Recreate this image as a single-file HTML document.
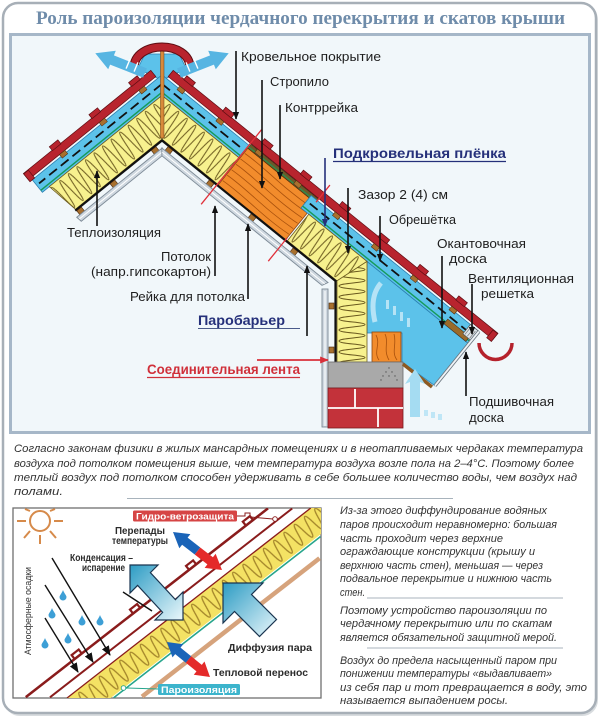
<!DOCTYPE html>
<html><head><meta charset="utf-8"><title>Роль пароизоляции</title>
<style>html,body{margin:0;padding:0;background:#fff;width:600px;height:718px;overflow:hidden}svg{display:block}</style>
</head><body>
<svg xmlns="http://www.w3.org/2000/svg" width="600" height="718" viewBox="0 0 600 718" font-family="'Liberation Sans', sans-serif">
<defs>
<pattern id="ins" patternUnits="userSpaceOnUse" x="0" y="26" width="11" height="34"><path d="M0,2 C3,2 3,32 5.5,32 C8,32 8,2 11,2" fill="none" stroke="#6b5a1e" stroke-width="1"/></pattern>
<pattern id="insv" patternUnits="userSpaceOnUse" x="337" y="0" width="30" height="11"><path d="M2,0 C2,3 28,3 28,5.5 C28,8 2,8 2,11" fill="none" stroke="#6b5a1e" stroke-width="1"/></pattern>
<pattern id="insL" patternUnits="userSpaceOnUse" x="0" y="0" width="13" height="26.8"><path d="M0,3 C3.25,3 3.25,24 6.5,24 C9.75,24 9.75,3 13,3" fill="none" stroke="#a3852a" stroke-width="1.3"/></pattern>
<linearGradient id="cg" x1="0" y1="0" x2="1" y2="1"><stop offset="0" stop-color="#2d9cc4"/><stop offset="1" stop-color="#eaf7fb"/></linearGradient>
<marker id="mk" viewBox="0 0 10 8" refX="9" refY="4" markerWidth="8" markerHeight="6.5" markerUnits="userSpaceOnUse" orient="auto"><path d="M0,0 L10,4 L0,8 Z" fill="#111"/></marker>
<marker id="mkn" viewBox="0 0 10 8" refX="9" refY="4" markerWidth="8" markerHeight="6.5" markerUnits="userSpaceOnUse" orient="auto"><path d="M0,0 L10,4 L0,8 Z" fill="#25307a"/></marker>
<marker id="mkr" viewBox="0 0 10 8" refX="9" refY="4" markerWidth="9" markerHeight="7" markerUnits="userSpaceOnUse" orient="auto"><path d="M0,0 L10,4 L0,8 Z" fill="#d8303a"/></marker>
<marker id="mkb" viewBox="0 0 10 8" refX="9" refY="4" markerWidth="10" markerHeight="8" markerUnits="userSpaceOnUse" orient="auto"><path d="M0,0 L10,4 L0,8 Z" fill="#111"/></marker>
<clipPath id="bc"><rect x="13" y="508" width="308" height="190"/></clipPath>
</defs>

<!-- outer frame -->
<rect x="5" y="5" width="592" height="710" rx="15" fill="none" stroke="#d8dcdf" stroke-width="2"/>
<rect x="3" y="3" width="593" height="710" rx="15" fill="#fff" stroke="#a7afb7" stroke-width="2.5"/>
<text x="36" y="24" font-family="'Liberation Serif',serif" font-weight="bold" font-size="19" fill="#6f8caa" textLength="529" lengthAdjust="spacingAndGlyphs">Роль пароизоляции чердачного перекрытия и скатов крыши</text>

<!-- upper panel -->
<rect x="10.5" y="34.5" width="579" height="398" fill="#f1f7fa" stroke="#a6b7c8" stroke-width="3"/>

<!-- ridge vent blue -->
<polygon points="138,68 145,54 179,54 186,68 174,75 162,80 150,75" fill="#5cc2ea" stroke="#2a7fb0" stroke-width="0.8"/>

<!-- LEFT SLOPE -->
<g transform="matrix(-0.777,0.629,0.629,0.777,162,62)">
<polygon points="8,10 175,10 175,26 21,26" fill="#5cc2ea" stroke="#2a7fb0" stroke-width="0.8"/>
<line x1="14" y1="17" x2="172" y2="17" stroke="#111" stroke-width="1.8" stroke-dasharray="10 5"/>
<line x1="19" y1="23.5" x2="175" y2="23.5" stroke="#159a5a" stroke-width="1.4"/>
<polygon points="21,26 166,26 160,60 49,60" fill="#f7f18e"/>
<polygon points="21,26 166,26 160,60 49,60" fill="url(#ins)" stroke="#6b5a1e" stroke-width="0.8"/>
<line x1="49" y1="61" x2="161" y2="61" stroke="#111" stroke-width="2.2"/>
<g fill="#a8702e" stroke="#4a2a10" stroke-width="0.6"><rect x="58" y="62" width="6" height="5"/><rect x="111" y="62" width="6" height="5"/><rect x="154" y="62" width="6" height="5"/></g>
<polygon points="54,67 164,67 163,73 59,73" fill="#cfd8e0" stroke="#7d8a96" stroke-width="0.9"/>
<line x1="57" y1="70" x2="163" y2="70" stroke="#fff" stroke-width="1"/>
<g fill="#b8242e" stroke="#5e0d12" stroke-width="0.7">
<rect x="14" y="-0.5" width="164" height="8"/>
<rect x="28" y="-5" width="11" height="5"/><rect x="79" y="-5" width="11" height="5"/><rect x="130" y="-5" width="11" height="5"/>
<rect x="172" y="0" width="6" height="10"/>
</g>
<g fill="#a8702e" stroke="#4a2a10" stroke-width="0.5"><rect x="29" y="7.5" width="7" height="4.5"/><rect x="80" y="7.5" width="7" height="4.5"/><rect x="131" y="7.5" width="7" height="4.5"/></g>
</g>

<!-- eave blue region -->
<polygon points="367,261.4 468.9,343.9 434.9,385.8 402,362 402,333 367,333" fill="#5cc2ea" stroke="#2a7fb0" stroke-width="0.8"/>
<path d="M375,322 C371,305 373,292 381,283" fill="none" stroke="#fff" stroke-width="5" opacity="0.55"/>
<g fill="#fff" opacity="0.55"><rect x="386" y="300" width="3" height="9"/><rect x="393" y="306" width="3" height="9"/><rect x="400" y="312" width="3" height="9"/><rect x="407" y="318" width="3" height="9"/></g>

<!-- RIGHT SLOPE -->
<g transform="matrix(0.777,0.629,-0.629,0.777,162,62)">
<polygon points="8,10 120,10 120,26 21,26" fill="#5cc2ea" stroke="#2a7fb0" stroke-width="0.8"/>
<line x1="14" y1="17" x2="118" y2="17" stroke="#111" stroke-width="1.8" stroke-dasharray="10 5"/>
<line x1="19" y1="23.5" x2="120" y2="23.5" stroke="#159a5a" stroke-width="1.4"/>
<polygon points="21,26 120,26 120,60 49,60" fill="#f7f18e"/>
<polygon points="21,26 120,26 120,60 49,60" fill="url(#ins)" stroke="#6b5a1e" stroke-width="0.8"/>
<polygon points="121,13 208,13 208,61 121,61" fill="#f28c2c" stroke="#8a4510" stroke-width="0.8"/>
<path d="M122,19 C145,17 170,22 207,19 M122,26 C150,24 175,29 207,26 M122,33 C140,31 170,36 207,33 M122,40 C150,38 180,43 207,40 M122,47 C145,45 170,50 207,47 M122,54 C150,52 175,57 207,54" stroke="#a8500c" stroke-width="0.8" fill="none"/>
<rect x="121" y="8" width="87" height="5" fill="#6b5a2a" stroke="#3a2a10" stroke-width="0.5"/>
<line x1="121" y1="11.5" x2="208" y2="11.5" stroke="#1d9a55" stroke-width="1"/>
<polygon points="200,10 416,10 416,26 200,26" fill="#5cc2ea" stroke="#2a7fb0" stroke-width="0.8"/>
<line x1="204" y1="17" x2="410" y2="17" stroke="#111" stroke-width="1.8" stroke-dasharray="10 5"/>
<line x1="200" y1="23.5" x2="416" y2="23.5" stroke="#159a5a" stroke-width="1.4"/>
<polygon points="210,26 284.9,26 273.8,60 210,60" fill="#f7f18e"/>
<polygon points="210,26 284.9,26 273.8,60 210,60" fill="url(#ins)" stroke="#6b5a1e" stroke-width="0.8"/>
<line x1="49" y1="61" x2="274" y2="61" stroke="#111" stroke-width="2.2"/>
<g fill="#a8702e" stroke="#4a2a10" stroke-width="0.6"><rect x="58" y="62" width="6" height="5"/><rect x="111" y="62" width="6" height="5"/><rect x="165" y="62" width="6" height="5"/><rect x="219" y="62" width="6" height="5"/></g>
<polygon points="54,67 267.9,67 265,73 59,73" fill="#cfd8e0" stroke="#7d8a96" stroke-width="0.9"/>
<line x1="57" y1="70" x2="266" y2="70" stroke="#fff" stroke-width="1"/>
<rect x="384" y="20" width="28" height="6" fill="#9a6a2a" stroke="#4a2a10" stroke-width="0.5"/>
<rect x="405" y="10" width="11" height="12" fill="#dde5ea" stroke="#555" stroke-width="0.7"/>
<path d="M407,12 L407,21 M410,12 L410,21 M413,12 L413,21" stroke="#777" stroke-width="0.7"/>
<g fill="#b8242e" stroke="#5e0d12" stroke-width="0.7">
<rect x="14" y="-0.5" width="418" height="8"/>
<rect x="28" y="-5" width="11" height="5"/><rect x="78" y="-5" width="11" height="5"/><rect x="128" y="-5" width="11" height="5"/><rect x="178" y="-5" width="11" height="5"/><rect x="228" y="-5" width="11" height="5"/><rect x="278" y="-5" width="11" height="5"/><rect x="328" y="-5" width="11" height="5"/><rect x="378" y="-5" width="11" height="5"/>
<rect x="426" y="0" width="6" height="10"/>
</g>
<g fill="#a8702e" stroke="#4a2a10" stroke-width="0.5"><rect x="29" y="7.5" width="7" height="4.5"/><rect x="79" y="7.5" width="7" height="4.5"/><rect x="129" y="7.5" width="7" height="4.5"/><rect x="179" y="7.5" width="7" height="4.5"/><rect x="229" y="7.5" width="7" height="4.5"/><rect x="279" y="7.5" width="7" height="4.5"/><rect x="329" y="7.5" width="7" height="4.5"/><rect x="379" y="7.5" width="7" height="4.5"/></g>
<g stroke="#e0303a" stroke-width="1.3"><line x1="120" y1="-10" x2="120" y2="86"/><line x1="208" y1="-10" x2="208" y2="12"/><line x1="208" y1="58" x2="208" y2="88"/></g>
</g>

<!-- vertical knee wall -->
<polygon points="367,261.4 367,362 337,362 337,280.8" fill="#f7f18e"/>
<polygon points="367,261.4 367,362 337,362 337,280.8" fill="url(#insv)" stroke="#6b5a1e" stroke-width="0.8"/>
<line x1="335.5" y1="280" x2="335.5" y2="362" stroke="#111" stroke-width="2.2"/>
<g fill="#a8702e" stroke="#4a2a10" stroke-width="0.6"><rect x="329" y="303" width="5" height="6"/><rect x="329" y="347" width="5" height="6"/></g>
<rect x="322" y="289" width="6" height="138" fill="#cfd8e0" stroke="#7d8a96" stroke-width="0.9"/>
<line x1="325" y1="291" x2="325" y2="426" stroke="#fff" stroke-width="1"/>

<!-- mauerlat, block, bricks -->
<rect x="372" y="332" width="29" height="30" fill="#f28c2c" stroke="#8a4510" stroke-width="0.8"/>
<path d="M376,335 C381,344 373,352 379,360 M385,334 C389,342 383,350 389,360 M394,334 C397,344 391,352 397,360" stroke="#a8500c" stroke-width="0.8" fill="none"/>
<rect x="328" y="362" width="75" height="26" fill="#a9a9a9" stroke="#6a6a6a" stroke-width="0.8"/>
<g fill="#555"><circle cx="389" cy="368" r="0.7"/><circle cx="386" cy="372" r="0.7"/><circle cx="392" cy="372" r="0.7"/><circle cx="383" cy="376" r="0.7"/><circle cx="395" cy="376" r="0.7"/><circle cx="381" cy="380" r="0.7"/><circle cx="397" cy="380" r="0.7"/><circle cx="389" cy="376" r="0.7"/></g>
<rect x="328" y="388" width="75" height="40" fill="#c3323a" stroke="#7a1a1f" stroke-width="0.8"/>
<g stroke="#fff" stroke-width="1.8"><line x1="328" y1="408" x2="403" y2="408"/><line x1="355" y1="389" x2="355" y2="408"/><line x1="378" y1="408" x2="378" y2="427"/></g>

<!-- fascia & soffit -->
<line x1="478.9" y1="331.5" x2="434.9" y2="385.8" stroke="#6b7680" stroke-width="3.5"/>
<line x1="478.9" y1="331.5" x2="434.9" y2="385.8" stroke="#eef3f6" stroke-width="1.8"/>
<line x1="403" y1="364" x2="432" y2="387" stroke="#8c5a22" stroke-width="3.5"/>
<path d="M410,417 L410,382 L405,384 L415,369 L425,384 L420,382 L420,417 Z" fill="#a5dcf2"/>
<g fill="#bfe6f6"><rect x="424" y="410" width="4" height="6"/><rect x="431" y="412" width="4" height="6"/><rect x="438" y="414" width="4" height="6"/></g>
<path d="M479,343 A16.5,16.5 0 0 0 512,343" fill="none" stroke="#b5222c" stroke-width="3.5"/>

<!-- ridge -->
<rect x="160.5" y="50" width="3.5" height="88" fill="#d88a3a" stroke="#6a3a10" stroke-width="0.5"/>
<path d="M134,68 C134,40 190,40 190,68" fill="none" stroke="#5e0d12" stroke-width="9"/>
<path d="M134,68 C134,40 190,40 190,68" fill="none" stroke="#b8242e" stroke-width="7"/>
<polygon points="146.9,68.4 113.9,55.4 115.8,50.7 95.3,53.3 108.2,69.3 110.1,64.6 143.1,77.6" fill="#57b5e2"/>
<polygon points="177.1,68.4 210.1,55.4 208.2,50.7 228.7,53.3 215.8,69.3 213.9,64.6 180.9,77.6" fill="#57b5e2"/>
<g stroke="#fff" stroke-width="1.4"><line x1="126.1" y1="68.6" x2="129.9" y2="59.4"/><line x1="134.1" y1="71.6" x2="137.9" y2="62.4"/><line x1="197.9" y1="68.6" x2="194.1" y2="59.4"/><line x1="189.9" y1="71.6" x2="186.1" y2="62.4"/></g>

<!-- leaders -->
<g stroke="#111" stroke-width="1.6" marker-end="url(#mk)">
<line x1="236" y1="51" x2="236" y2="119"/>
<line x1="262" y1="80" x2="262" y2="188"/>
<line x1="280" y1="105" x2="280" y2="179"/>
<line x1="348" y1="188" x2="348" y2="253"/>
<line x1="380" y1="216" x2="380" y2="261"/>
<line x1="442" y1="256" x2="442" y2="328"/>
<line x1="472" y1="284" x2="472" y2="334"/>
<line x1="466" y1="396" x2="466" y2="352"/>
<line x1="97" y1="226" x2="97" y2="171"/>
<line x1="215" y1="276" x2="215" y2="206"/>
<line x1="248" y1="299" x2="248" y2="224"/>
<line x1="307" y1="336" x2="307" y2="266"/>
</g>
<line x1="325" y1="158" x2="325" y2="226" stroke="#25307a" stroke-width="1.6" marker-end="url(#mkn)"/>
<line x1="257" y1="360" x2="328" y2="360" stroke="#d8303a" stroke-width="1.8" marker-end="url(#mkr)"/>

<!-- labels -->
<g font-size="13" fill="#1e1e1e">
<text x="241" y="61" textLength="140" lengthAdjust="spacingAndGlyphs">Кровельное покрытие</text>
<text x="270" y="86" textLength="59" lengthAdjust="spacingAndGlyphs">Стропило</text>
<text x="285" y="112" textLength="73" lengthAdjust="spacingAndGlyphs">Контррейка</text>
<text x="358" y="199" textLength="90" lengthAdjust="spacingAndGlyphs">Зазор 2 (4) см</text>
<text x="389" y="224" textLength="67" lengthAdjust="spacingAndGlyphs">Обрешётка</text>
<text x="67" y="237" textLength="94" lengthAdjust="spacingAndGlyphs">Теплоизоляция</text>
<text x="437" y="248" textLength="89" lengthAdjust="spacingAndGlyphs">Окантовочная</text>
<text x="449" y="263" textLength="38" lengthAdjust="spacingAndGlyphs">доска</text>
<text x="161" y="261" textLength="50" lengthAdjust="spacingAndGlyphs">Потолок</text>
<text x="91" y="276" textLength="120" lengthAdjust="spacingAndGlyphs">(напр.гипсокартон)</text>
<text x="468" y="283" textLength="106" lengthAdjust="spacingAndGlyphs">Вентиляционная</text>
<text x="481" y="298" textLength="53" lengthAdjust="spacingAndGlyphs">решетка</text>
<text x="130" y="301" textLength="115" lengthAdjust="spacingAndGlyphs">Рейка для потолка</text>
<text x="469" y="406" textLength="85" lengthAdjust="spacingAndGlyphs">Подшивочная</text>
<text x="469" y="422" textLength="35" lengthAdjust="spacingAndGlyphs">доска</text>
</g>
<text x="333" y="158" font-size="13.5" font-weight="bold" fill="#25307a" textLength="173" lengthAdjust="spacingAndGlyphs">Подкровельная плёнка</text>
<line x1="333" y1="161.5" x2="506" y2="161.5" stroke="#25307a" stroke-width="1.2"/>
<text x="198" y="325" font-size="13.5" font-weight="bold" fill="#25307a" textLength="87" lengthAdjust="spacingAndGlyphs">Паробарьер</text>
<line x1="198" y1="328.5" x2="300" y2="328.5" stroke="#4a5a8a" stroke-width="1.1"/>
<text x="147" y="374" font-size="13.5" font-weight="bold" fill="#d0303a" textLength="153" lengthAdjust="spacingAndGlyphs">Соединительная лента</text>
<line x1="147" y1="377.5" x2="300" y2="377.5" stroke="#d0303a" stroke-width="1.2"/>

<!-- paragraph 1 -->
<g font-size="11" font-style="italic" fill="#333">
<text x="14" y="452" textLength="569" lengthAdjust="spacingAndGlyphs">Согласно законам физики в жилых мансардных помещениях и в неотапливаемых чердаках температура</text>
<text x="14" y="467" textLength="560" lengthAdjust="spacingAndGlyphs">воздуха под потолком помещения выше, чем температура воздуха возле пола на 2–4°С. Поэтому более</text>
<text x="14" y="481" textLength="563" lengthAdjust="spacingAndGlyphs">теплый воздух под потолком способен удерживать в себе большее количество воды, чем воздух над</text>
<text x="14" y="495" textLength="49" lengthAdjust="spacingAndGlyphs">полами.</text>
</g>
<line x1="127" y1="498.5" x2="453" y2="498.5" stroke="#a8b3bc" stroke-width="1"/>

<!-- paragraph right -->
<g font-size="11" font-style="italic" fill="#333">
<text x="340" y="514" textLength="207" lengthAdjust="spacingAndGlyphs">Из-за этого диффундирование водяных</text>
<text x="340" y="528" textLength="217" lengthAdjust="spacingAndGlyphs">паров происходит неравномерно: большая</text>
<text x="340" y="542" textLength="163" lengthAdjust="spacingAndGlyphs">часть проходит через верхние</text>
<text x="340" y="555" textLength="195" lengthAdjust="spacingAndGlyphs">ограждающие конструкции (крышу и</text>
<text x="340" y="569" textLength="203" lengthAdjust="spacingAndGlyphs">верхнюю часть стен), меньшая — через</text>
<text x="340" y="582" textLength="212" lengthAdjust="spacingAndGlyphs">подвальное перекрытие и нижнюю часть</text>
<text x="340" y="596" textLength="25" lengthAdjust="spacingAndGlyphs">стен.</text>
<text x="340" y="614" textLength="207" lengthAdjust="spacingAndGlyphs">Поэтому устройство пароизоляции по</text>
<text x="340" y="627" textLength="212" lengthAdjust="spacingAndGlyphs">чердачному перекрытию или по скатам</text>
<text x="340" y="641" textLength="217" lengthAdjust="spacingAndGlyphs">является обязательной защитной мерой.</text>
<text x="340" y="664" textLength="217" lengthAdjust="spacingAndGlyphs">Воздух до предела насыщенный паром при</text>
<text x="340" y="677" textLength="212" lengthAdjust="spacingAndGlyphs">понижении температуры «выдавливает»</text>
<text x="340" y="691" textLength="247" lengthAdjust="spacingAndGlyphs">из себя пар и тот превращается в воду, это</text>
<text x="340" y="704" textLength="168" lengthAdjust="spacingAndGlyphs">называется выпадением росы.</text>
</g>
<line x1="367" y1="598" x2="563" y2="598" stroke="#a8b3bc" stroke-width="1"/>
<line x1="367" y1="648" x2="563" y2="648" stroke="#a8b3bc" stroke-width="1"/>

<!-- lower-left illustration -->
<rect x="13" y="508" width="308" height="190" fill="#fff" stroke="#6f6f6f" stroke-width="1.3"/>
<g clip-path="url(#bc)">
<g stroke="#d68a4a" stroke-width="2" fill="none">
<circle cx="40" cy="521" r="10"/>
<line x1="54" y1="521" x2="63" y2="521"/><line x1="26" y1="521" x2="17" y2="521"/><line x1="40" y1="535" x2="40" y2="544"/>
<line x1="50" y1="531" x2="56" y2="538"/><line x1="30" y1="531" x2="24" y2="538"/><line x1="50" y1="511" x2="55" y2="509"/><line x1="30" y1="511" x2="25" y2="509"/>
</g>
<g transform="matrix(0.789,-0.615,0.615,0.789,67,698)">
<polygon points="0,0 309,0 317,6.26 301,26.8 34.4,26.8" fill="#f4e264"/>
<polygon points="0,0 309,0 317,6.26 301,26.8 34.4,26.8" fill="url(#insL)"/>
<line x1="0" y1="0" x2="309" y2="0" stroke="#8a1c1c" stroke-width="1.3"/>
<line x1="37" y1="28.5" x2="299" y2="28.5" stroke="#27a58c" stroke-width="1.6"/>
<line x1="60" y1="45" x2="285" y2="45" stroke="#d6a37c" stroke-width="4.5"/>
<line x1="-13" y1="-11" x2="294" y2="-11" stroke="#8a1c1c" stroke-width="2"/>
<line x1="-32" y1="-26" x2="275" y2="-26" stroke="#8a1c1c" stroke-width="2.5"/>
<path d="M30,-26 L30,-31 L39,-31 L39,-26 M104,-26 L104,-31 L113,-31 L113,-26 M175,-26 L175,-31 L184,-31 L184,-26 M247,-26 L247,-31 L256,-31 L256,-26" stroke="#8a1c1c" stroke-width="2.2" fill="none"/>
</g>
<g fill="#3d9fd6">
<path d="M63,590 C64,593 66.5,595.5 66.5,597 A3.5,3.5 0 0 1 59.5,597 C59.5,595.5 62,593 63,590 Z"/>
<path d="M52,608 C53,611 55.5,613.5 55.5,615 A3.5,3.5 0 0 1 48.5,615 C48.5,613.5 51,611 52,608 Z"/>
<path d="M82,615 C83,618 85.5,620.5 85.5,622 A3.5,3.5 0 0 1 78.5,622 C78.5,620.5 81,618 82,615 Z"/>
<path d="M100,615 C101,618 103.5,620.5 103.5,622 A3.5,3.5 0 0 1 96.5,622 C96.5,620.5 99,618 100,615 Z"/>
<path d="M68,633 C69,636 71.5,638.5 71.5,640 A3.5,3.5 0 0 1 64.5,640 C64.5,638.5 67,636 68,633 Z"/>
<path d="M45,638 C46,641 48.5,643.5 48.5,645 A3.5,3.5 0 0 1 41.5,645 C41.5,643.5 44,641 45,638 Z"/>
</g>
<g stroke="#111" stroke-width="1.4" marker-end="url(#mkb)">
<line x1="52" y1="558" x2="110" y2="655"/>
<line x1="45" y1="585" x2="93" y2="662"/>
<line x1="45" y1="618" x2="78" y2="672"/>
</g>
<line x1="123" y1="592" x2="152" y2="611" stroke="#111" stroke-width="1.4"/>
<polygon points="130,565 158,565 150.4,572.6 175.4,599.6 183,592 183,620 155,620 162.6,612.4 137.6,585.4 130,593" fill="url(#cg)" stroke="#1a3550" stroke-width="1.2"/>
<polygon points="223,583 263,583 251.5,594.5 276.5,619.5 259.5,636.5 234.5,611.5 223,623" fill="url(#cg)" stroke="#1a3550" stroke-width="1.2"/>
<g transform="translate(173,532) rotate(37.8)">
<polygon points="0,0 15,-9 15,-4.5 31,-4.5 31,4.5 15,4.5 15,9" fill="#1a64b8"/>
<polygon points="62,0 47,-9 47,-4.5 31,-4.5 31,4.5 47,4.5 47,9" fill="#e42a2a"/>
</g>
<g transform="translate(167,642) rotate(39.1)">
<polygon points="0,0 14,-8.5 14,-4.2 27.7,-4.2 27.7,4.2 14,4.2 14,8.5" fill="#1a64b8"/>
<polygon points="55.4,0 41.4,-8.5 41.4,-4.2 27.7,-4.2 27.7,4.2 41.4,4.2 41.4,8.5" fill="#e42a2a"/>
</g>
<rect x="133" y="510.5" width="104" height="11" rx="1.5" fill="#d64545"/>
<text x="136" y="519.3" font-size="9" font-weight="bold" fill="#fff" textLength="98" lengthAdjust="spacingAndGlyphs">Гидро-ветрозащита</text>
<path d="M237,516 L245,516 L245,513 L250,513 L250,517 L273,519" fill="none" stroke="#8a1c1c" stroke-width="1"/>
<circle cx="275" cy="519" r="2.3" fill="#fff" stroke="#8a1c1c" stroke-width="0.9"/>
<rect x="158" y="684" width="82" height="11" rx="1.5" fill="#3cb4cc"/>
<text x="161" y="692.8" font-size="9" font-weight="bold" fill="#fff" textLength="76" lengthAdjust="spacingAndGlyphs">Пароизоляция</text>
<line x1="158" y1="689" x2="126" y2="688" stroke="#27a58c" stroke-width="1"/>
<circle cx="123.5" cy="688" r="2.3" fill="#fff" stroke="#27a58c" stroke-width="0.9"/>
<g font-size="10" font-weight="bold" fill="#2b2b2b">
<text x="140" y="534" text-anchor="middle" textLength="50" lengthAdjust="spacingAndGlyphs">Перепады</text>
<text x="140" y="544" text-anchor="middle" textLength="56" lengthAdjust="spacingAndGlyphs">температуры</text>
<text x="70" y="561" textLength="63" lengthAdjust="spacingAndGlyphs">Конденсация –</text>
<text x="82" y="571" textLength="43" lengthAdjust="spacingAndGlyphs">испарение</text>
<text x="228" y="651" textLength="84" lengthAdjust="spacingAndGlyphs">Диффузия пара</text>
<text x="213" y="676" textLength="95" lengthAdjust="spacingAndGlyphs">Тепловой перенос</text>
</g>
<text transform="translate(31,611) rotate(-90)" text-anchor="middle" font-size="9" fill="#333" textLength="88" lengthAdjust="spacingAndGlyphs">Атмосферные осадки</text>
</g>
</svg>
</body></html>
